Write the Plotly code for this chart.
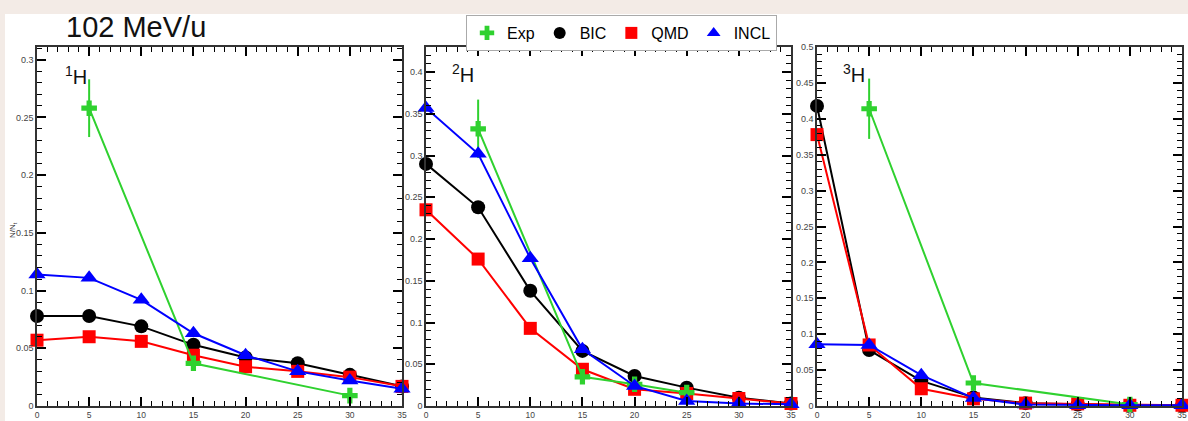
import plotly.graph_objects as go

W, H = 1188, 421

energies = [0, 5, 10, 15, 20, 25, 30, 35]

# 1H
h1_bic = [0.078, 0.078, 0.069, 0.053, 0.042, 0.037, 0.027, 0.017]
h1_qmd = [0.057, 0.060, 0.056, 0.044, 0.034, 0.030, 0.025, 0.017]
h1_incl = [0.114, 0.111, 0.092, 0.063, 0.044, 0.030, 0.022, 0.015]
h1_exp_x = [5, 15, 30]
h1_exp_y = [0.258, 0.037, 0.009]
h1_exp_err = [0.025, 0.002, 0.002]

# 2H
h2_bic = [0.290, 0.238, 0.138, 0.066, 0.036, 0.022, 0.010, 0.003]
h2_qmd = [0.235, 0.176, 0.093, 0.044, 0.020, 0.015, 0.009, 0.003]
h2_incl = [0.357, 0.302, 0.177, 0.068, 0.024, 0.006, 0.003, 0.002]
h2_exp_x = [5, 15, 20, 25]
h2_exp_y = [0.332, 0.035, 0.026, 0.016]
h2_exp_err = [0.035, 0.002, 0.002, 0.002]

# 3H
h3_bic = [0.418, 0.078, 0.035, 0.012, 0.004, 0.002, 0.001, 0.0005]
h3_qmd = [0.378, 0.085, 0.024, 0.010, 0.004, 0.003, 0.001, 0.001]
h3_incl = [0.086, 0.085, 0.043, 0.011, 0.002, 0.001, 0.001, 0.001]
h3_exp_x = [5, 15, 30]
h3_exp_y = [0.414, 0.032, 0.002]
h3_exp_err = [0.042, 0.002, 0.001]

panel_labels = ["<sup>1</sup>H", "<sup>2</sup>H", "<sup>3</sup>H"]
y_max = [0.311, 0.43, 0.50]
series_names = ["Exp", "BIC", "QMD", "INCL"]

GREEN = "#2fd12f"
BLACK = "#000000"
RED = "#ff0000"
BLUE = "#0000ff"

panels = [
    (h1_bic, h1_qmd, h1_incl, h1_exp_x, h1_exp_y, h1_exp_err),
    (h2_bic, h2_qmd, h2_incl, h2_exp_x, h2_exp_y, h2_exp_err),
    (h3_bic, h3_qmd, h3_incl, h3_exp_x, h3_exp_y, h3_exp_err),
]

px_x = [(37, 402), (426, 791), (817, 1182)]
px_y = (47, 406)

fig = go.Figure()
FONT = "Liberation Sans, Arial, sans-serif"

for i, (bic, qmd, incl, ex, ey, ee) in enumerate(panels):
    xa = "x" if i == 0 else f"x{i+1}"
    ya = "y" if i == 0 else f"y{i+1}"
    common = dict(xaxis=xa, yaxis=ya, showlegend=False, cliponaxis=False)
    fig.add_trace(go.Scatter(x=energies, y=bic, mode="lines+markers",
                             line=dict(color=BLACK, width=2),
                             marker=dict(symbol="circle", size=14, color=BLACK), **common))
    fig.add_trace(go.Scatter(x=energies, y=qmd, mode="lines+markers",
                             line=dict(color=RED, width=2),
                             marker=dict(symbol="square", size=13, color=RED), **common))
    fig.add_trace(go.Scatter(x=ex, y=ey, mode="lines+markers",
                             line=dict(color=GREEN, width=2),
                             error_y=dict(type="data", array=ee, color=GREEN, thickness=2, width=0),
                             marker=dict(symbol="cross", size=13, color=GREEN), **common))
    fig.add_trace(go.Scatter(x=energies, y=incl, mode="lines+markers",
                             line=dict(color=BLUE, width=2),
                             marker=dict(symbol="triangle-up", size=15, color=BLUE), **common))
    # invisible trace on the tick-overlay axes
    fig.add_trace(go.Scatter(x=[None], y=[None], xaxis=f"x{i+4}", yaxis=f"y{i+4}",
                             showlegend=False, hoverinfo="skip"))

# legend-only entries (markers only)
leg_specs = [("Exp", GREEN, "cross", 14), ("BIC", BLACK, "circle", 15),
             ("QMD", RED, "square", 15), ("INCL", BLUE, "triangle-up", 16)]
for name, col, sym, sz in leg_specs:
    fig.add_trace(go.Scatter(x=[None], y=[None], mode="markers", name=name,
                             marker=dict(symbol=sym, size=sz, color=col),
                             xaxis="x", yaxis="y", showlegend=True))

layout = dict(
    width=W, height=H,
    margin=dict(l=0, r=0, t=0, b=0),
    paper_bgcolor="white",
    plot_bgcolor="white",
    font=dict(family=FONT, color="#000"),
    legend=dict(orientation="h", x=466 / W, y=1 - 15 / H, xanchor="left", yanchor="top",
                bgcolor="white", bordercolor="#aaa", borderwidth=1,
                font=dict(size=16, family=FONT), itemsizing="constant",
                tracegroupgap=0, itemwidth=30),
)

for i in range(3):
    sx = "" if i == 0 else str(i + 1)
    so = str(i + 4)
    x0, x1 = px_x[i]
    xdom = [x0 / W, x1 / W]
    ydom = [1 - px_y[1] / H, 1 - px_y[0] / H]
    # main axes: labels + frame
    layout[f"xaxis{sx}"] = dict(
        domain=xdom, anchor=f"y{sx}", range=[0, 35],
        tickmode="linear", tick0=0, dtick=5, ticks="",
        showline=True, linecolor="#333", linewidth=1.5, mirror=True,
        showgrid=False, zeroline=False, automargin=False,
        tickfont=dict(size=8.5, color="#444"),
    )
    layout[f"yaxis{sx}"] = dict(
        domain=ydom, anchor=f"x{sx}", range=[0, y_max[i]],
        tickmode="linear", dtick=0.05, tick0=0, ticks="",
        showline=True, linecolor="#333", linewidth=1.5, mirror=True,
        showgrid=False, zeroline=False, automargin=False,
        tickfont=dict(size=9, color="#444"),
    )
    # overlay axes on the opposite side whose mirrored ticks land on bottom/left
    layout[f"xaxis{so}"] = dict(
        overlaying=f"x{sx}", anchor=f"y{sx}", side="top", range=[0, 35],
        tickmode="linear", tick0=0, dtick=5, showticklabels=False,
        ticks="inside", ticklen=9, tickwidth=1.5, tickcolor="black", mirror="ticks",
        minor=dict(ticks="inside", ticklen=5, dtick=1, tickwidth=1, tickcolor="black"),
        showline=False, showgrid=False, zeroline=False, automargin=False,
    )
    layout[f"yaxis{so}"] = dict(
        overlaying=f"y{sx}", anchor=f"x{sx}", side="right", range=[0, y_max[i]],
        tickmode="linear", tick0=0, dtick=0.05, showticklabels=False,
        ticks="inside", ticklen=9, tickwidth=1.5, tickcolor="black", mirror="ticks",
        minor=dict(ticks="inside", ticklen=5, dtick=0.01, tickwidth=1, tickcolor="black"),
        showline=False, showgrid=False, zeroline=False, automargin=False,
    )

fig.update_layout(**layout)

# pink outer strips
fig.add_shape(type="rect", xref="paper", yref="paper", x0=0, x1=1, y0=1 - 14 / H, y1=1,
              fillcolor="#f3ebe6", line=dict(width=0), layer="below")
fig.add_shape(type="rect", xref="paper", yref="paper", x0=0, x1=5 / W, y0=0, y1=1,
              fillcolor="#f3ebe6", line=dict(width=0), layer="below")

# title
fig.add_annotation(text="102 MeV/u", xref="paper", yref="paper",
                   x=64 / W, y=1 - 27 / H, xanchor="left", yanchor="middle",
                   showarrow=False, font=dict(size=29, family=FONT, color="#111"))

# panel labels
label_pos = [(63, 76), (450, 73), (841, 73)]
for i, (lx, ly) in enumerate(label_pos):
    fig.add_annotation(text=panel_labels[i], xref="paper", yref="paper",
                       x=lx / W, y=1 - ly / H, xanchor="left", yanchor="middle",
                       showarrow=False, font=dict(size=20, family=FONT, color="#111"))

# y-axis title
fig.add_annotation(text="N/N<sub>t</sub>", xref="paper", yref="paper",
                   x=13 / W, y=1 - 230 / H, xanchor="center", yanchor="middle",
                   textangle=-90, showarrow=False, font=dict(size=8, family=FONT, color="#333"))

fig.write_html("out.html")
